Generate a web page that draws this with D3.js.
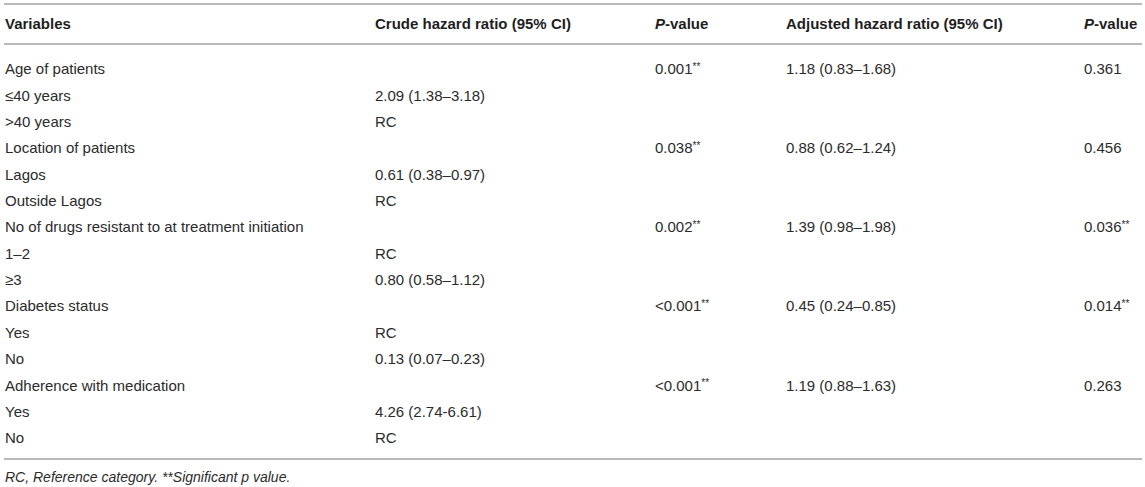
<!DOCTYPE html>
<html>
<head>
<meta charset="utf-8">
<script src="https://cdn.jsdelivr.net/npm/d3@7/dist/d3.min.js"></script>
<style>
  html, body { margin: 0; padding: 0; background: #fff; }
  svg { display: block; }
  text { font-family: "Liberation Sans", Arial, Helvetica, sans-serif; font-size: 15px; fill: #2b2b2b; }
  .hdr { font-weight: bold; fill: #1e1e1e; }
  .foot { font-style: italic; font-size: 14px; }
</style>
</head>
<body>
<svg id="chart" width="1145" height="487"></svg>
<script>
// ---- data ----
const headers = ["Variables", "Crude hazard ratio (95% CI)", "P-value", "Adjusted hazard ratio (95% CI)", "P-value"];
const variables = [
  "Age of patients", "≤40 years", ">40 years",
  "Location of patients", "Lagos", "Outside Lagos",
  "No of drugs resistant to at treatment initiation", "1–2", "≥3",
  "Diabetes status", "Yes", "No",
  "Adherence with medication", "Yes", "No"
];
const crudeHR = [
  "", "2.09 (1.38–3.18)", "RC",
  "", "0.61 (0.38–0.97)", "RC",
  "", "RC", "0.80 (0.58–1.12)",
  "", "RC", "0.13 (0.07–0.23)",
  "", "4.26 (2.74-6.61)", "RC"
];
const crudeP = [
  "0.001**", "", "",
  "0.038**", "", "",
  "0.002**", "", "",
  "<0.001**", "", "",
  "<0.001**", "", ""
];
const adjustedHR = [
  "1.18 (0.83–1.68)", "", "",
  "0.88 (0.62–1.24)", "", "",
  "1.39 (0.98–1.98)", "", "",
  "0.45 (0.24–0.85)", "", "",
  "1.19 (0.88–1.63)", "", ""
];
const adjustedP = [
  "0.361", "", "",
  "0.456", "", "",
  "0.036**", "", "",
  "0.014**", "", "",
  "0.263", "", ""
];
const footnote = "RC, Reference category. **Significant p value.";

// ---- layout ----
const svg = d3.select("#chart");
const colKeys = ["var", "crude", "p1", "adj", "p2"];
const colX = d3.scaleOrdinal().domain(colKeys).range([5, 375, 655, 786, 1084]);
const rowY = d3.scaleLinear().domain([0, variables.length - 1]).range([69, 438]);
const lineX = [4, 1142];

function drawLine(y) {
  svg.append("line").attr("x1", lineX[0]).attr("x2", lineX[1])
    .attr("y1", y).attr("y2", y)
    .attr("stroke", "#b9b9b9").attr("stroke-width", 2);
}
drawLine(4);
drawLine(44);
drawLine(459);

// header
const hdrY = 24;
headers.forEach((h, i) => {
  const t = svg.append("text").attr("class", "hdr")
    .attr("x", colX(colKeys[i])).attr("y", hdrY).attr("dy", "0.35em");
  if (h.startsWith("P-")) {
    t.append("tspan").attr("font-style", "italic").text("P");
    t.append("tspan").text(h.slice(1));
  } else {
    t.text(h);
  }
});

function cell(text, key, i) {
  if (!text) return;
  const t = svg.append("text").attr("x", colX(key)).attr("y", rowY(i)).attr("dy", "0.35em");
  const m = text.match(/^(.*?)(\*\*)$/);
  if (m) {
    t.append("tspan").text(m[1]);
    t.append("tspan").attr("font-size", "10px").attr("dy", "-0.45em").text("**");
  } else {
    t.text(text);
  }
}
variables.forEach((v, i) => {
  cell(v, "var", i);
  cell(crudeHR[i], "crude", i);
  cell(crudeP[i], "p1", i);
  cell(adjustedHR[i], "adj", i);
  cell(adjustedP[i], "p2", i);
});

svg.append("text").attr("class", "foot").attr("x", 5).attr("y", 477).attr("dy", "0.35em").text(footnote);
</script>
</body>
</html>
